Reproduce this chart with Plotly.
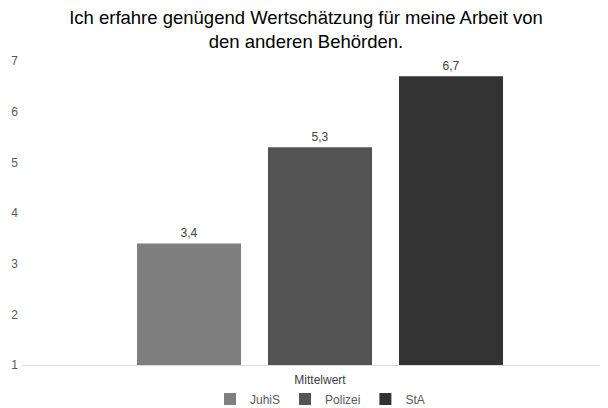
import plotly.graph_objects as go

categories = ["Mittelwert"]
series_names = ["JuhiS", "Polizei", "StA"]
series_values = [[3.4], [5.3], [6.7]]
series_colors = ["#7f7f7f", "#545454", "#333333"]
title_text = "Ich erfahre genügend Wertschätzung für meine Arbeit von<br>den anderen Behörden."

fig = go.Figure()
for name, vals, col in zip(series_names, series_values, series_colors):
    fig.add_trace(go.Bar(
        x=categories, y=vals, name=name,
        marker=dict(color=col, line=dict(width=0)),
        texttemplate="%{y:.1f}", textposition="outside",
        textfont=dict(size=12, color="#404040"),
        cliponaxis=False,
    ))

# page has an 8px body margin, so the figure is 600x400
W, H = 600, 400
ml, mr, mt, mb = 14, 8, 53, 43
pw = W - ml - mr
ph = H - mt - mb
fig.update_layout(
    width=W, height=H,
    margin=dict(l=ml, r=mr, t=mt, b=mb, autoexpand=False),
    paper_bgcolor="white", plot_bgcolor="white",
    separators=",.",
    font=dict(family="Liberation Sans, Arial, sans-serif", size=12, color="#595959"),
    title=dict(text=title_text, x=298 / W, xanchor="center", y=1 - 16 / H, yanchor="middle",
               font=dict(size=18.5, color="#000000")),
    barmode="group", bargap=0.32, bargroupgap=0.206,
    showlegend=True,
    legend=dict(orientation="h", x=(312 - ml) / pw, xanchor="center",
                y=-34 / ph, yanchor="middle",
                font=dict(size=12, color="#595959"),
                itemwidth=30, tracegroupgap=0),
    xaxis=dict(range=[-298 / pw, 1 - 298 / pw], showline=True, linecolor="#d9d9d9",
               linewidth=1, showgrid=False, ticks="", automargin=False,
               ticklabelstandoff=4,
               tickfont=dict(size=12, color="#404040")),
    yaxis=dict(range=[1, 7], dtick=1, showgrid=False, zeroline=False, showline=False,
               ticks="", automargin=False,
               tickfont=dict(size=12, color="#595959"), ticklabelstandoff=3),
)
fig.write_html("out.html")
